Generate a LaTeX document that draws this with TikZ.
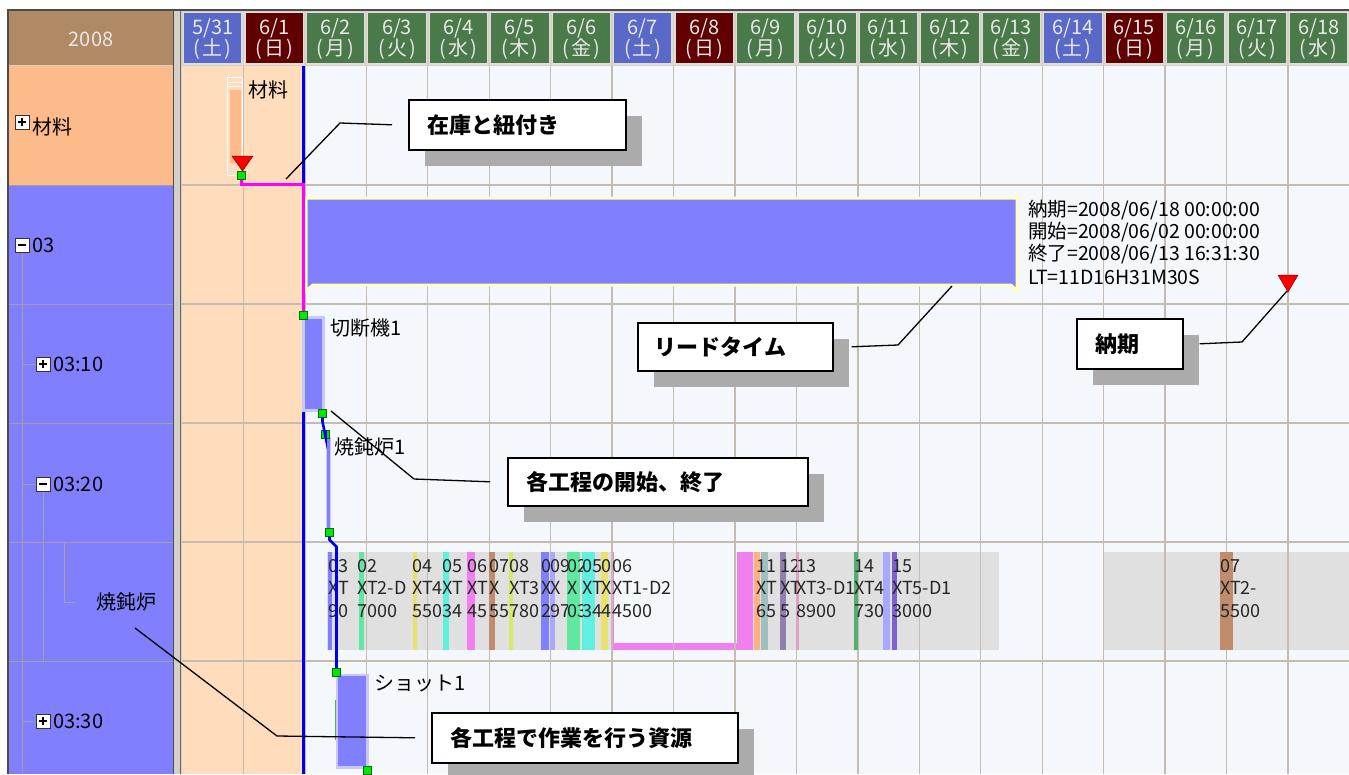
\documentclass[tikz,border=0pt]{standalone}
\usepackage{fontspec}
\setmainfont{Noto Sans CJK JP}
\usetikzlibrary{shadows}
\definecolor{hdrbrown}{HTML}{B08A64}
\definecolor{sat}{HTML}{5A68C8}
\definecolor{sun}{HTML}{600000}
\definecolor{wkd}{HTML}{4A7A4A}
\definecolor{rowpeach}{HTML}{FDBA8A}
\definecolor{rowblue}{HTML}{8080FF}
\definecolor{chartpeach}{HTML}{FFDCBC}
\definecolor{chartbg}{HTML}{F4F8FC}
\definecolor{gridc}{HTML}{C4BCAE}
\definecolor{bandc}{HTML}{E0E0E0}
\definecolor{framegray}{HTML}{D4D0C8}
\definecolor{treegray}{HTML}{A0A0A0}
\definecolor{gsqc}{HTML}{00E800}
\definecolor{shadowc}{HTML}{ABABAB}
\definecolor{linkblue}{HTML}{0000F0}
\definecolor{pinkline}{HTML}{FF00FF}
\definecolor{lav}{HTML}{C8C8FF}
\definecolor{yelb}{HTML}{FFFFC0}
\definecolor{hdrtext}{HTML}{E8E8E8}
\definecolor{bmint}{HTML}{60E8A0}
\definecolor{byel}{HTML}{E8E070}
\definecolor{bcyan}{HTML}{60F0E0}
\definecolor{bmag}{HTML}{F080F0}
\definecolor{bbrown}{HTML}{C08C6C}
\definecolor{bygreen}{HTML}{D8E868}
\definecolor{blblue}{HTML}{A8A8FF}
\definecolor{borange}{HTML}{FFB080}
\definecolor{bteal}{HTML}{A0C0C0}
\definecolor{bpgray}{HTML}{9080B0}
\definecolor{bpink}{HTML}{E0A0C0}
\definecolor{bgreen}{HTML}{50B070}
\definecolor{bpurple}{HTML}{8060D0}
\newcommand\blab[6]{%
  \pgfmathsetmacro\blw{#3-#2-0.5}%
  \begin{scope}
    \clip (#2,550) rectangle (#3,652);
    \node[btext] (#1a) at (#2,572) {\makebox[\blw pt][l]{#4}};
    \node[btext] (#1b) at (#2,594.5) {\makebox[\blw pt][l]{#5}};
    \node[btext] (#1c) at (#2,617) {\makebox[\blw pt][l]{#6}};
  \end{scope}}
\newcommand\treebox[3]{%
  \draw[fill=white, draw=black!80, line width=1pt] (#1,#2) rectangle ++(14,14);
  \draw[black, line width=1.2pt] (#1+3,#2+7) -- (#1+11,#2+7);
  \ifnum#3=1 \draw[black, line width=1.2pt] (#1+7,#2+3) -- (#1+7,#2+11);\fi}
\tikzset{
  gridline/.style={draw=gridc, line width=1.3pt},
  lbl/.style={anchor=base west, inner sep=0pt, font=\fontsize{20}{22}\selectfont},
  info/.style={anchor=base west, inner sep=0pt, font=\fontsize{19.5}{22}\selectfont},
  btext/.style={anchor=base west, inner sep=0pt, font=\fontsize{18}{20}\selectfont, text=black!85},
  hdr/.style={inner sep=0pt, font=\fontsize{20}{22}\selectfont, text=hdrtext},
  gsq/.style={rectangle, minimum size=8pt, inner sep=0pt, fill=gsqc, draw=green!45!black, line width=0.4pt},
  callout/.style={draw=black, line width=1.6pt, fill=white, inner xsep=19pt, inner ysep=0pt,
    align=left, font=\fontsize{22}{24}\selectfont\bfseries, anchor=north west,
    drop shadow={shadow xshift=16pt, shadow yshift=-16pt, fill=shadowc, opacity=1}},
  leader/.style={draw=black, line width=1.3pt},
  magc/.style={draw=pinkline, line width=3pt},
  bluec/.style={draw=linkblue, line width=2.6pt},
  treeline/.style={draw=treegray, line width=1pt},
}
\begin{document}
\begin{tikzpicture}[x=1pt,y=-1pt]
\useasboundingbox (0,0) rectangle (1349,774);
\fill[white] (0,0) rectangle (1349,774);
% ---------- left panel ----------
\fill[hdrbrown] (9,11) rectangle (173,65);
\node[hdr] (yr) at (91,39) {2008};
\fill[rowpeach] (9,66) rectangle (173,185);
\fill[rowblue] (9,185) rectangle (173,774);
\foreach \yy in {185,304,423,542,661} \draw[treeline] (9,\yy) -- (173,\yy);
\draw[framegray, line width=1pt] (9,65.5) -- (173,65.5);
% tree lines
\draw[treeline] (22,253) -- (22,774);
\draw[treeline] (22,364) -- (36,364);
\draw[treeline] (22,484) -- (36,484);
\draw[treeline] (22,721) -- (36,721);
\draw[treeline] (43,491) -- (43,661);
\draw[treeline] (64,543) -- (64,602) -- (75,602);
\treebox{15}{115}{1}
\treebox{15}{238}{0}
\treebox{36}{357}{1}
\treebox{36}{477}{0}
\treebox{36}{714}{1}
\node[lbl] (r1) at (32,134) {材料};
\node[lbl] (r2) at (32,252.5) {03};
\node[lbl] (r3) at (53,371) {03:10};
\node[lbl] (r4) at (53,491) {03:20};
\node[lbl] (r5) at (96,609) {焼鈍炉};
\node[lbl] (r6) at (53,728) {03:30};
% ---------- chart background ----------
\fill[chartbg] (182,66) rectangle (1349,774);
\fill[chartpeach] (182,66) rectangle (303,774);
% band of 焼鈍炉
\fill[bandc] (327,552) rectangle (999,650);
\fill[bandc] (1104,552) rectangle (1349,650);
\fill[bmag] (612,552) rectangle (753,650);
\fill[chartbg] (613.5,552) rectangle (737,643);
% grid
\foreach \i in {1,...,18} {
  \pgfmathsetmacro\gx{182+61.44*\i}
  \draw[gridline] (\gx,66) -- (\gx,774);
}
\foreach \yy in {185,304,423,542,661} \draw[gridline] (182,\yy) -- (1349,\yy);
% band bars
\fill[rowblue] (328,552) rectangle (332,650);
\fill[bmint] (359,552) rectangle (364,650);
\fill[byel] (413,552) rectangle (417,650);
\fill[bcyan] (443,552) rectangle (449,650);
\fill[bmag] (467,552) rectangle (475,650);
\fill[bbrown] (489,552) rectangle (495,650);
\fill[bygreen] (509,552) rectangle (513,650);
\fill[rowblue] (541,552) rectangle (549,650);
\fill[blblue] (550,552) rectangle (555,650);
\fill[bmint] (567,552) rectangle (580,650);
\fill[bcyan] (582,552) rectangle (595,650);
\fill[byel] (601,552) rectangle (608,650);
\fill[borange] (754,552) rectangle (760,650);
\fill[bteal] (761,552) rectangle (768,650);
\fill[bpgray] (780,552) rectangle (786,650);
\fill[bpink] (796,552) rectangle (799,650);
\fill[bgreen] (854,552) rectangle (858,650);
\fill[blblue] (883,552) rectangle (890,650);
\fill[bpurple] (892,552) rectangle (897,650);
\fill[bbrown] (1220,552) rectangle (1233,650);
% band labels (each clipped at the next label)
\blab{ba}{328}{357}{03}{XT}{90}
\blab{bb}{357}{412}{02}{XT2-D}{7000}
\blab{bc}{412}{442}{04}{XT4}{550}
\blab{bd}{442}{467}{05}{XT}{34}
\blab{be}{467}{489}{06}{XT}{45}
\blab{bf}{489}{509}{07}{X}{55}
\blab{bg}{509}{541}{08}{XT3}{780}
\blab{bh}{541}{550}{0}{X}{2}
\blab{bi}{550}{567}{09}{X}{97}
\blab{bj}{567}{582}{02}{X}{03}
\blab{bk}{582}{601}{05}{XT}{34}
\blab{bl}{601}{612}{0}{X}{4}
\blab{bm}{612}{754}{06}{XT1-D2}{4500}
\blab{bo}{756}{780}{11}{XT}{65}
\blab{bp}{780}{796}{12}{XT}{5}
\blab{bq}{796}{854}{13}{XT3-D1}{8900}
\blab{br}{854}{883}{14}{XT4}{730}
\blab{bs}{892}{1000}{15}{XT5-D1}{3000}
\blab{bt}{1220}{1349}{07}{XT2-}{5500}
% ---------- header ----------
\fill[framegray] (181,10) rectangle (1349,66);
\foreach \i/\c/\m/\dd/\w in {0/sat/5/31/土,1/sun/6/1/日,2/wkd/6/2/月,3/wkd/6/3/火,4/wkd/6/4/水,5/wkd/6/5/木,6/wkd/6/6/金,7/sat/6/7/土,8/sun/6/8/日,9/wkd/6/9/月,10/wkd/6/10/火,11/wkd/6/11/水,12/wkd/6/12/木,13/wkd/6/13/金,14/sat/6/14/土,15/sun/6/15/日,16/wkd/6/16/月,17/wkd/6/17/火,18/wkd/6/18/水} {
  \pgfmathsetmacro\xa{182+61.44*\i+1.5}
  \pgfmathsetmacro\xc{182+61.44*\i+30.7}
  \draw[fill=\c, draw=framegray!70!white, line width=1.2pt] (\xa,12.5) rectangle ++(58.5,51.5);
  \node[hdr] (hd\i) at (\xc,28) {\m/\dd};
  \node[hdr] (hw\i) at (\xc,49) {(\kern2pt\w\kern2pt)};
}
% ---------- frame ----------
\fill[black!70] (7,9) rectangle (1349,10.5);
\fill[black!70] (7,9) rectangle (9,774);
\fill[framegray] (173,10.5) rectangle (182,774);
\draw[black!70, line width=1.2pt] (173.5,10.5) -- (173.5,774);
\draw[black!60, line width=1pt] (180.5,10.5) -- (180.5,774);
% current date line
\coordinate (nowtop) at (303.5,66);
\coordinate (nowbot) at (303.5,774);
\draw[linkblue, line width=2.5pt] (nowtop) -- (nowbot);
% ---------- 材料 ----------
\draw[draw=white, line width=1pt, fill=chartpeach] (227.5,77.5) rectangle (242.5,175);
\fill[rowpeach] (229.5,90) rectangle (240.5,163);
\draw[white, line width=1pt] (228,82) -- (242,82) (228,86) -- (242,86);
\draw[white!80!gray, line width=1pt] (228,166) -- (236,166) (228,170) -- (236,170);
\node[lbl] (matlbl) at (248,97) {材料};
\filldraw[fill=red, draw=red!50!black, line width=0.5pt] (232,156) -- (253,156) -- (242.5,171) -- cycle;
\node[gsq] (gA) at (241.5,175.5) {};
% ---------- 03 lead time bar ----------
\draw[fill=rowblue, draw=yelb, line width=3pt] (306,198) -- (1017,198) -- (1017,291) -- (1011,285) -- (313,285) -- (306,291) -- cycle;
\node[info] (info1) at (1028,216.5) {納期=2008/06/18 00:00:00};
\node[info] (info2) at (1028,238.5) {開始=2008/06/02 00:00:00};
\node[info] (info3) at (1028,260.5) {終了=2008/06/13 16:31:30};
\node[info] (info4) at (1028,284.5) {LT=11D16H31M30S};
\filldraw[fill=red, draw=red!50!black, line width=0.5pt] (1278,275) -- (1298,275) -- (1288,292) -- cycle;
\coordinate (due) at (1287,291);
% ---------- 切断機1 ----------
\draw[fill=rowblue, draw=lav, line width=2.5pt] (303.5,317.5) rectangle (323.5,410.5);
\node[lbl] (lb1) at (330,335) {切断機1};
\node[gsq] (gB) at (303.5,315.5) {};
\node[gsq] (gC) at (322.5,413.5) {};
% ---------- 焼鈍炉1 ----------
\draw[fill=rowblue, draw=lav, line width=1pt] (326,437) rectangle (330,531);
\node[lbl] (lb2) at (334,454) {焼鈍炉1};
\node[gsq] (gD) at (325.5,434.5) {};
\node[gsq] (gE) at (329.5,532.5) {};
% ---------- ショット1 ----------
\draw[fill=rowblue, draw=lav, line width=2.5pt] (337,675) rectangle (367.5,767.5);
\draw[green!35!gray, line width=1pt] (335,700) -- (335,740);
\node[lbl] (lb3) at (374,690) {ショット1};
\node[gsq] (gF) at (336.5,672.5) {};
\node[gsq] (gG) at (367.5,770) {};
% ---------- links ----------
\draw[magc] (gA.south) -- ++(0,4.5) -| (gB.north);
\draw[bluec] (gC.south) -- ++(0,4) -- ([yshift=-6pt]gD.north) -- (gD.north);
\draw[bluec] (gE.south) -- ++(0,3) -- ([yshift=-10pt]gE.south -| gF.north) -- (gF.north);
% ---------- callouts ----------
\node[callout, minimum width=217pt, minimum height=50pt, text width=179pt] (c1) at (408,99) {在庫と紐付き};
\node[callout, minimum width=195pt, minimum height=48pt, text width=161pt, inner xsep=17pt] (c2) at (637,322) {リードタイム};
\node[callout, minimum width=106pt, minimum height=50pt, text width=68pt] (c3) at (1076,318) {納期};
\node[callout, minimum width=300pt, minimum height=48pt, text width=262pt] (c4) at (507,457) {各工程の開始、終了};
\node[callout, minimum width=306pt, minimum height=50pt, text width=268pt] (c5) at (431,712) {各工程で作業を行う資源};
% leader lines
\coordinate (k1) at (340,123);
\coordinate (t1) at (286,179);
\draw[leader] ([xshift=-16pt]c1.west) -- (k1) -- (t1);
\coordinate (k2) at (898,345);
\coordinate (t2) at (952,286);
\draw[leader] ([xshift=18pt]c2.east) -- (k2) -- (t2);
\coordinate (k3) at (1242,342);
\draw[leader] ([xshift=16pt]c3.east) -- (k3) -- (due);
\coordinate (k4) at (414,479);
\coordinate (t4) at (331,411);
\draw[leader] ([xshift=-17pt]c4.west) -- (k4) -- (t4);
\coordinate (k5) at (277,736);
\coordinate (t5) at (135,628);
\draw[leader] ([xshift=-16pt]c5.west) -- (k5) -- (t5);
\end{tikzpicture}
\end{document}
